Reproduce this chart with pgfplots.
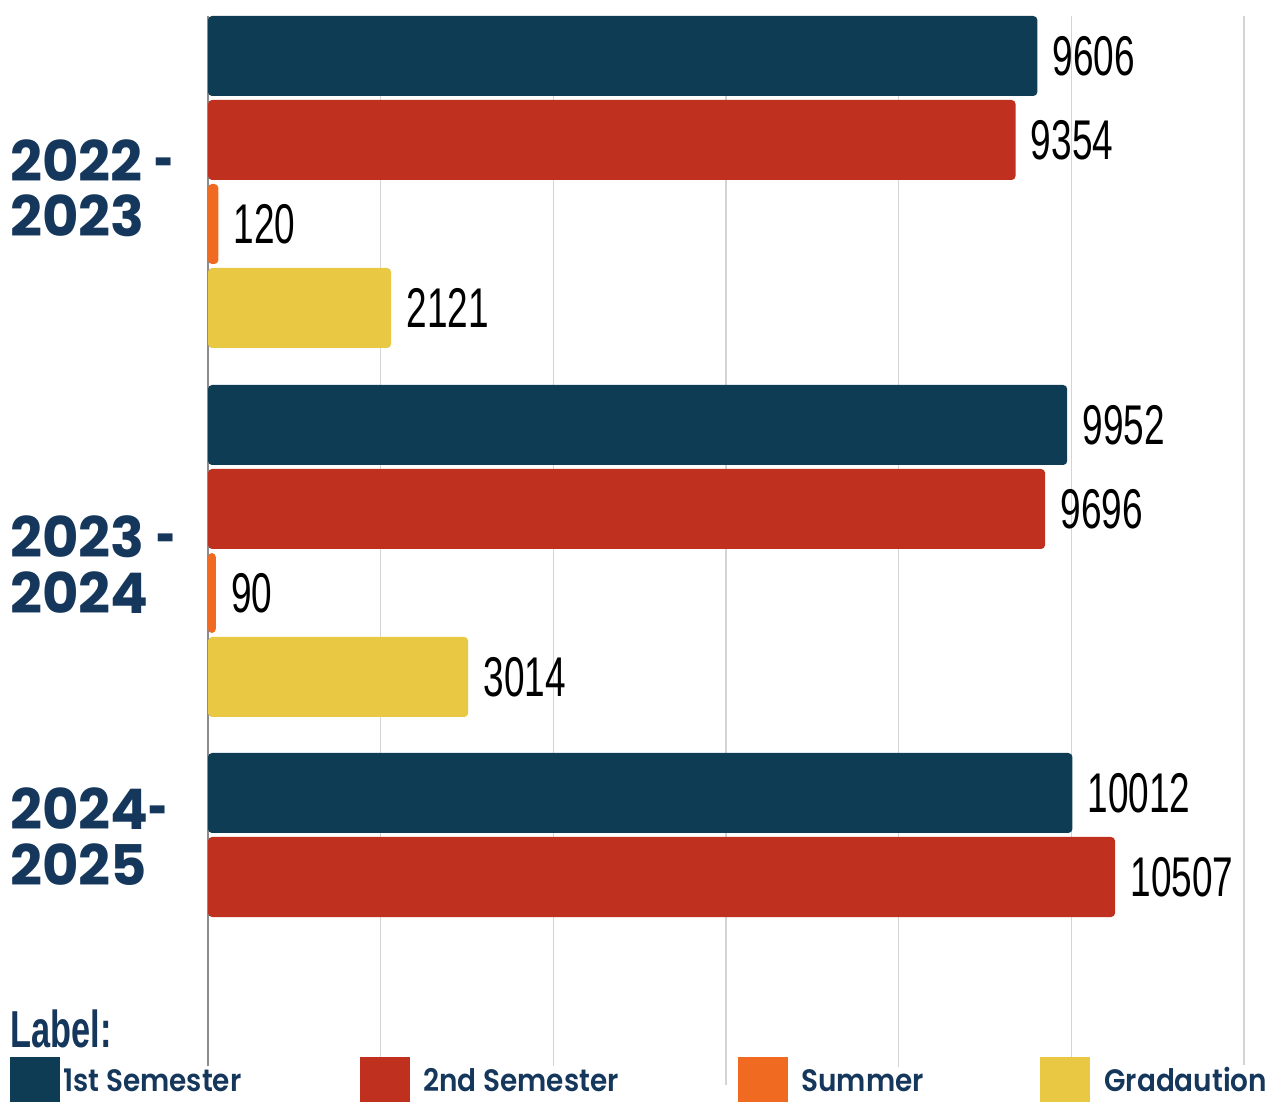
\documentclass[border=0pt]{standalone}
\usepackage{graphicx}
\usepackage{pgfplots}
\pgfplotsset{compat=1.18}
\usepackage{fontspec}
\setmainfont{Poppins}
\newfontfamily\grpfont{Poppins}[UprightFont=* Bold]
\newfontfamily\legfont{Poppins}[UprightFont=* SemiBold, FakeStretch=0.9]
\newfontfamily\numfont{Liberation Sans}[FakeStretch=0.66]
\newfontfamily\labfont{Liberation Sans}[UprightFont=* Bold, FakeStretch=0.66]
\newcommand\hy{\scalebox{0.6}[1]{-}}
\definecolor{barnavy}{HTML}{0F3C55}
\definecolor{barred}{HTML}{C0301F}
\definecolor{barorange}{HTML}{F06A22}
\definecolor{baryellow}{HTML}{E9C844}
\definecolor{txtnavy}{HTML}{15375C}
\definecolor{gridgray}{HTML}{D4D4D4}
\definecolor{axisgray}{HTML}{8C8C8C}
\begin{document}
\begin{tikzpicture}
\begin{axis}[
  at={(0,0)}, anchor=south west,
  scale only axis, width=518pt, height=534.5pt,
  xmin=0, xmax=12000, ymin=-1085, ymax=-16,
  xbar, bar width=80, bar shift=0pt,
  axis line style={draw=none},
  xtick={0,2000,...,12000}, xticklabels={}, ytick=\empty,
  scaled x ticks=false,
  major tick length=0pt,
  xmajorgrids, grid style={draw=gridgray, line width=0.6pt},
  point meta=x,
  nodes near coords={\pgfmathprintnumber[fixed,precision=0,1000 sep={},assume math mode=true]{\pgfplotspointmeta}},
  every node near coord/.append style={anchor=west, inner sep=0pt, xshift=7.5pt, text=black, font=\numfont\fontsize{28pt}{28pt}\selectfont},
  clip=false,
]
\draw[axisgray, line width=0.6pt] (axis cs:0,-1090) -- (axis cs:0,-16);
\addplot[draw=none, fill=barnavy, rounded corners=2pt] coordinates {(9606,-56) (9952,-425) (10012,-793)};
\addplot[draw=none, fill=barred, rounded corners=2pt] coordinates {(9354,-140) (9696,-509) (10507,-877)};
\addplot[draw=none, fill=barorange, rounded corners=2pt] coordinates {(120,-224) (90,-593)};
\addplot[draw=none, fill=baryellow, rounded corners=2pt] coordinates {(2121,-308) (3014,-677)};
\end{axis}
\begin{scope}[x=0.5pt, y=-0.5pt, shift={(-104pt,542.5pt)}]
\path[use as bounding box] (0,0) rectangle (1267,1102);
\tikzset{grp/.style={anchor=base west, inner sep=0pt, text=txtnavy, font=\grpfont\fontsize{28pt}{28pt}\selectfont},
  leg/.style={anchor=base west, inner sep=1pt, fill=white, text=txtnavy, font=\legfont\fontsize{15.5pt}{15.5pt}\selectfont}}
\node[grp] at (10,182) {2022 \hy};
\node[grp] at (10,237) {2023};
\node[grp] at (10,558) {2023 \hy};
\node[grp] at (10,614) {2024};
\node[grp] at (10,830) {2024\hy};
\node[grp] at (10,886) {2025};
\node[anchor=base west, inner sep=0pt, text=txtnavy, font=\labfont\fontsize{26pt}{26pt}\selectfont] at (10,1047) {Label:};
\fill[barnavy] (10,1057) rectangle (60,1102);
\node[leg] at (61,1091) {1st Semester};
\fill[barred] (360,1057) rectangle (410,1102);
\node[leg] at (421,1091) {2nd Semester};
\fill[barorange] (738,1057) rectangle (788,1102);
\node[leg] at (799,1091) {Summer};
\fill[baryellow] (1040,1057) rectangle (1090,1102);
\node[leg] at (1102,1091) {Gradaution};
\end{scope}
\end{tikzpicture}
\end{document}
